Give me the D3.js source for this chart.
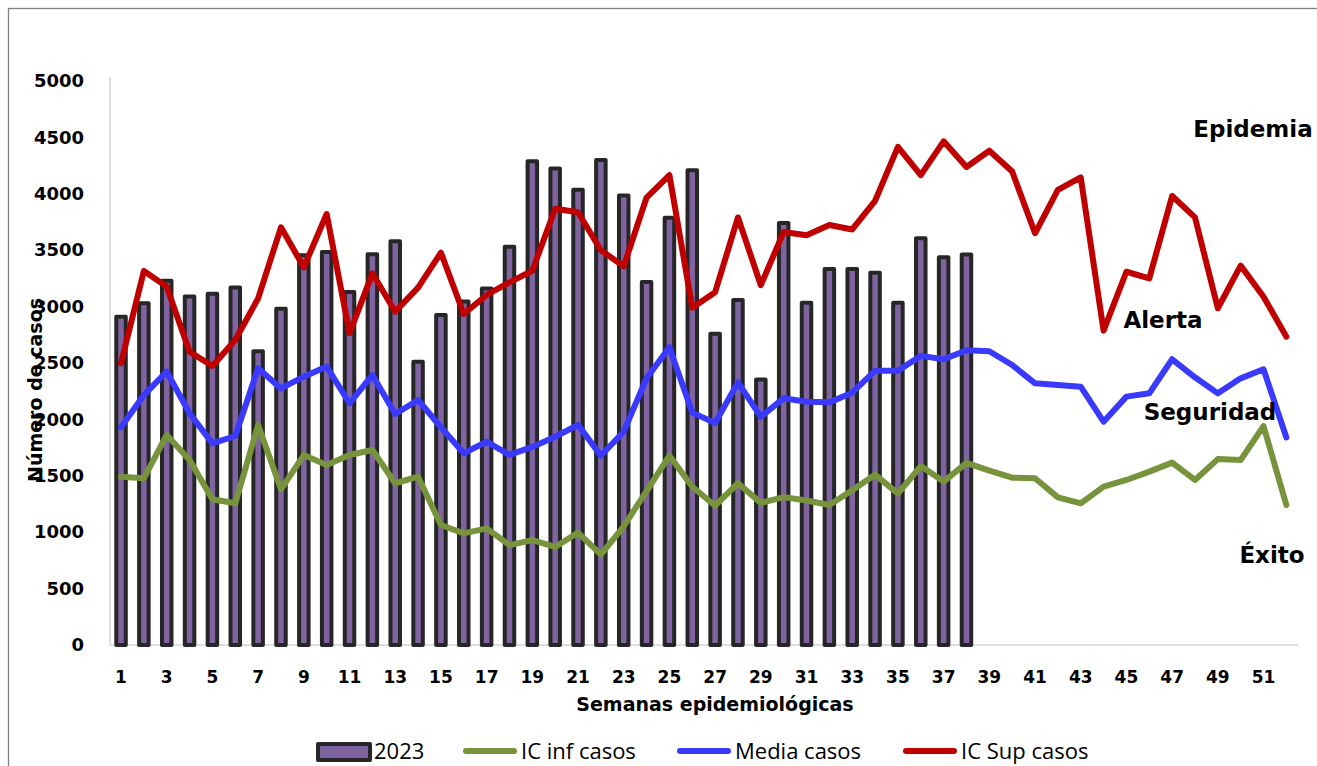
<!DOCTYPE html>
<html><head><meta charset="utf-8">
<script src="https://cdn.jsdelivr.net/npm/d3@7"></script>
<style>
html,body{margin:0;padding:0;background:#fff;}
svg{display:block;}
</style></head>
<body>
<svg id="c" width="1317" height="766"></svg>
<script>
const weeks = d3.range(1, 53);
const bars2023 = [2910,3030,3230,3090,3115,3170,2605,2980,3455,3485,3130,3465,3580,2510,2925,3045,3160,3530,4288,4224,4036,4300,3986,3217,3788,4209,2759,3058,2353,3742,3034,3333,3333,3300,3034,3605,3437,3461];
const icInf = [1492,1478,1862,1640,1292,1256,1950,1380,1684,1596,1684,1729,1434,1492,1064,990,1034,886,930,869,997,801,1052,1364,1678,1403,1235,1434,1260,1311,1281,1241,1372,1510,1342,1586,1449,1614,1546,1483,1478,1309,1256,1404,1463,1537,1617,1463,1648,1640,1941,1241];
const media = [1930,2216,2423,2054,1788,1853,2453,2275,2379,2468,2143,2394,2048,2172,1930,1700,1803,1686,1756,1846,1952,1678,1892,2365,2640,2060,1968,2328,2023,2188,2157,2151,2237,2432,2432,2563,2533,2612,2604,2482,2320,2305,2290,1980,2202,2231,2533,2373,2231,2364,2444,1840];
const icSup = [2497,3316,3177,2600,2473,2704,3073,3703,3348,3821,2763,3295,2955,3168,3478,2934,3103,3215,3318,3868,3836,3500,3357,3967,4166,2990,3128,3790,3190,3662,3632,3723,3684,3937,4416,4166,4465,4238,4382,4197,3650,4034,4146,2787,3309,3250,3981,3791,2985,3363,3088,2733];
const yTicks = d3.range(0, 5001, 500);
const xTickLabels = weeks.filter(w => w % 2 === 1);
const seriesNames = ["2023", "IC inf casos", "Media casos", "IC Sup casos"];
const zoneLabels = ["Epidemia", "Alerta", "Seguridad", "Éxito"];

const colors = {bar:"#8064A2", barStroke:"#262626", inf:"#77933C", media:"#3A3AFF", sup:"#C00000"};
const boldFont = "'DejaVu Sans', sans-serif";
const legFont = "'Open Sans', sans-serif";

const svg = d3.select("#c");
// outer chart frame
svg.append("rect").attr("x",8.5).attr("y",8.5).attr("width",1400).attr("height",900)
  .attr("fill","none").attr("stroke","#808080").attr("stroke-width",1.3);

const x = d3.scaleBand().domain(weeks).range([109.6, 1297.8]).padding(0);
const y = d3.scaleLinear().domain([0, 5000]).range([645, 81]);

// axes
const yAxis = svg.append("g").attr("transform","translate(110,0)")
  .call(d3.axisLeft(y).tickValues(yTicks).tickSize(0).tickPadding(26).tickFormat(d3.format("d")));
yAxis.select(".domain").attr("stroke","#bfbfbf").attr("d","M0,77V645");
yAxis.selectAll("text").attr("font-family",boldFont).attr("font-weight","bold").attr("font-size",18).attr("fill","#000");

const xAxis = svg.append("g").attr("transform","translate(0,645)")
  .call(d3.axisBottom(x).tickValues(xTickLabels).tickSize(0).tickPadding(26));
xAxis.select(".domain").attr("stroke","#bfbfbf").attr("d","M110,0H1298");
xAxis.selectAll("text").attr("font-family",boldFont).attr("font-weight","bold").attr("font-size",17).attr("fill","#000");

// bars
const bw = 9.5;
svg.append("g").selectAll("rect").data(bars2023).join("rect")
  .attr("x",(d,i)=>x(weeks[i]) + x.bandwidth()/2 - bw/2)
  .attr("y",d=>y(d))
  .attr("width",bw)
  .attr("height",d=>y(0)-y(d))
  .attr("fill",colors.bar).attr("stroke",colors.barStroke).attr("stroke-width",4)
  .attr("stroke-linejoin","round");

// lines
const line = d3.line().x((d,i)=>x(weeks[i]) + x.bandwidth()/2).y(d=>y(d));
[[icInf,colors.inf],[media,colors.media],[icSup,colors.sup]].forEach(([data,col])=>{
  svg.append("path").datum(data).attr("d",line).attr("fill","none")
    .attr("stroke",col).attr("stroke-width",6).attr("stroke-linejoin","round").attr("stroke-linecap","round");
});

// axis titles
svg.append("text").attr("x",715).attr("y",711).attr("text-anchor","middle")
  .attr("font-family",boldFont).attr("font-weight","bold").attr("font-size",19).text("Semanas epidemiológicas");
svg.append("text").attr("transform","translate(42,390) rotate(-90)").attr("text-anchor","middle")
  .attr("font-family",boldFont).attr("font-weight","bold").attr("font-size",19).text("Número de casos");

// zone labels
const zonePos = [[1253,137],[1163,328],[1210,420],[1272,563]];
zoneLabels.forEach((t,i)=>{
  svg.append("text").attr("x",zonePos[i][0]).attr("y",zonePos[i][1]).attr("text-anchor","middle")
    .attr("font-family",boldFont).attr("font-weight","bold").attr("font-size",23).attr("fill","#000").text(t);
});

// legend
const leg = svg.append("g");
const legX = [316, 463, 677, 903];
seriesNames.forEach((n,i)=>{
  const lx = legX[i];
  if(i===0){
    leg.append("rect").attr("x",lx+2).attr("y",744).attr("width",52).attr("height",16)
      .attr("fill",colors.bar).attr("stroke",colors.barStroke).attr("stroke-width",4).attr("stroke-linejoin","round");
  } else {
    const c = [colors.inf,colors.media,colors.sup][i-1];
    leg.append("line").attr("x1",lx+3).attr("x2",lx+51).attr("y1",751).attr("y2",751)
      .attr("stroke",c).attr("stroke-width",6).attr("stroke-linecap","round");
  }
  leg.append("text").attr("x",lx+58).attr("y",759).attr("font-family",legFont)
    .attr("font-size",22).attr("fill","#000").text(n);
});
</script>
</body></html>
